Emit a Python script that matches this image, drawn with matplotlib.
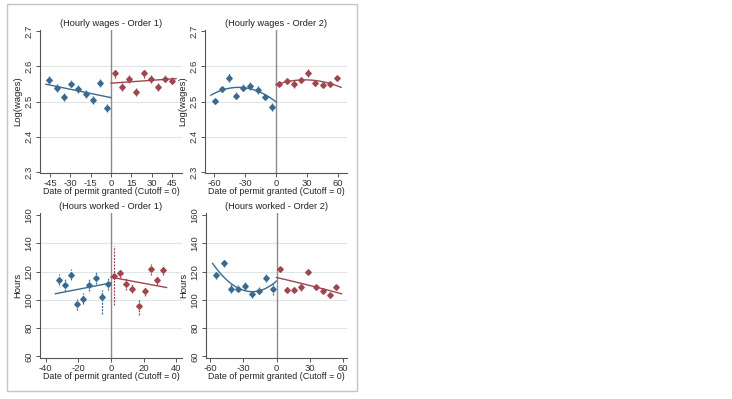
import matplotlib
matplotlib.use("Agg")
import matplotlib.pyplot as plt
import numpy as np
from matplotlib.patches import Rectangle

plt.rcParams['font.family'] = ['Liberation Sans', 'DejaVu Sans']

BLUE = '#3a6a90'
RED = '#a0464f'
GRID = '#dce6ea'
AXC = '#555555'

# ---------------- Data ----------------
# Panel 1: Hourly wages - Order 1
w1_bx = [-45.5, -40.2, -34.9, -29.5, -24.2, -18.8, -13.3, -8.1, -2.8]
w1_by = [2.562, 2.538, 2.513, 2.551, 2.535, 2.521, 2.504, 2.552, 2.481]
w1_be = [0.011, 0.012, 0.011, 0.011, 0.011, 0.012, 0.011, 0.012, 0.012]
w1_rx = [2.7, 8.1, 13.4, 18.7, 24.0, 29.3, 34.6, 39.9, 45.1]
w1_ry = [2.580, 2.542, 2.563, 2.527, 2.580, 2.563, 2.542, 2.564, 2.559]
w1_re = [0.012, 0.011, 0.011, 0.011, 0.012, 0.011, 0.011, 0.010, 0.010]
w1_bfx = [-48, 0]
w1_bfy = [2.549, 2.511]
w1_rfx = [0, 48]
w1_rfy = [2.552, 2.565]

# Panel 2: Hourly wages - Order 2
w2_bx = [-59.4, -52.6, -45.6, -38.8, -31.8, -24.8, -17.7, -10.9, -3.9]
w2_by = [2.501, 2.536, 2.568, 2.516, 2.539, 2.543, 2.532, 2.512, 2.485]
w2_be = [0.008, 0.008, 0.012, 0.010, 0.010, 0.011, 0.011, 0.008, 0.011]
w2_rx = [3.2, 10.3, 17.3, 24.1, 31.1, 38.2, 45.2, 52.3, 59.4]
w2_ry = [2.551, 2.558, 2.549, 2.560, 2.581, 2.553, 2.548, 2.549, 2.567]
w2_re = [0.008, 0.008, 0.011, 0.008, 0.011, 0.008, 0.008, 0.008, 0.008]
w2_bfx = [-63, -35, 0]
w2_bfy = [2.518, 2.540, 2.499]
w2_rfx = [0, 23, 63]
w2_rfy = [2.548, 2.561, 2.540]

# Panel 3: Hours worked - Order 1
h1_bx = [-32.0, -28.3, -24.6, -20.8, -16.9, -13.2, -9.4, -5.7, -2.0]
h1_by = [114.3, 110.5, 117.8, 96.8, 100.8, 110.5, 115.5, 102.3, 111.3]
h1_bel = [4.0, 4.0, 4.0, 4.0, 4.0, 4.0, 4.0, 12.0, 4.0]
h1_beu = [4.0, 4.0, 4.0, 4.0, 4.0, 4.0, 4.0, 4.5, 4.0]
h1_rx = [1.8, 5.5, 9.2, 13.0, 16.9, 20.6, 24.4, 28.1, 31.8]
h1_ry = [117.0, 118.8, 111.3, 108.0, 95.8, 106.5, 121.5, 114.3, 121.0]
h1_rel = [21.0, 3.0, 4.0, 3.0, 6.5, 3.5, 4.0, 3.5, 3.5]
h1_reu = [21.0, 3.0, 4.0, 3.0, 4.5, 3.5, 4.0, 3.5, 3.5]
h1_bfx = [-34, 0]
h1_bfy = [104.3, 112.0]
h1_rfx = [0, 34]
h1_rfy = [116.0, 108.7]

# Panel 4: Hours worked - Order 2
h2_bx = [-54.7, -48.0, -41.6, -35.3, -28.9, -22.5, -15.8, -9.4, -3.0]
h2_by = [117.3, 126.0, 108.0, 107.8, 109.8, 104.0, 106.5, 115.3, 107.8]
h2_be = [2.5, 2.5, 3.0, 2.5, 2.5, 2.5, 2.5, 3.0, 4.5]
h2_rx = [3.3, 9.7, 16.1, 22.5, 28.9, 35.6, 41.9, 48.3, 54.4]
h2_ry = [121.5, 107.3, 107.3, 109.0, 120.0, 109.0, 106.3, 103.3, 109.0]
h2_re = [2.0, 2.0, 2.0, 2.5, 2.0, 2.0, 2.0, 2.0, 2.0]
h2_bfx = [-58, -22, 0]
h2_bfy = [125.8, 105.8, 113.3]
h2_rfx = [0, 30, 59]
h2_rfy = [115.8, 110.2, 104.3]

titles = ['(Hourly wages - Order 1)', '(Hourly wages - Order 2)',
          '(Hours worked - Order 1)', '(Hours worked - Order 2)']
xlabel = 'Date of permit granted (Cutoff = 0)'
wage_ticks = [2.3, 2.4, 2.5, 2.6, 2.7]
hour_ticks = [60, 80, 100, 120, 140, 160]
x_ticks1 = [-45, -30, -15, 0, 15, 30, 45]
x_ticks2 = [-60, -30, 0, 30, 60]
x_ticks3 = [-40, -20, 0, 20, 40]

# ---------------- Figure ----------------
W, H = 732, 399
fig = plt.figure(figsize=(W / 100, H / 100), dpi=100)
fig.patch.set_facecolor('white')
fig.patches.append(Rectangle((7 / W, 1 - 391 / H), 350 / W, 387 / H,
                             transform=fig.transFigure, fill=False,
                             edgecolor='#c4c4c4', linewidth=1.0))


def px_axes(l, t, r, b):
    return fig.add_axes([l / W, 1 - b / H, (r - l) / W, (b - t) / H])


def fitline(ax, fx, fy, color):
    deg = len(fx) - 1
    c = np.polyfit(fx, fy, deg)
    xs = np.linspace(min(fx), max(fx), 100)
    ax.plot(xs, np.polyval(c, xs), color=color, lw=1.0, zorder=3)


def style(ax, title, ylabel, yticks, ylim, xticks, xlim, ylabfmt):
    ax.set_xlim(*xlim)
    ax.set_ylim(*ylim)
    ax.set_yticks(yticks)
    ax.set_yticklabels([ylabfmt(v) for v in yticks], rotation=90, va='center')
    ax.set_xticks(xticks)
    ax.set_xticklabels([str(v) for v in xticks])
    for s in ['top', 'right']:
        ax.spines[s].set_visible(False)
    for s in ['left', 'bottom']:
        ax.spines[s].set_color(AXC)
        ax.spines[s].set_linewidth(0.8)
    ax.tick_params(axis='both', colors=AXC, labelcolor='#333333', labelsize=6.8,
                   length=3, width=0.7, pad=1.5)
    for v in yticks[1:-1]:
        ax.axhline(v, color=GRID, lw=0.8, zorder=0)
    ax.axvline(0, color='#8c8c8c', lw=1.0, zorder=1)
    ax.set_title(title, fontsize=6.7, color='#222222', pad=3)
    ax.set_xlabel(xlabel, fontsize=6.4, color='#222222', labelpad=-1)
    ax.set_ylabel(ylabel, fontsize=6.8, color='#222222', labelpad=1.5)


def points(ax, x, y, yerr, color):
    eb = ax.errorbar(x, y, yerr=yerr, fmt='D', color=color, ms=2.8,
                     mec=color, elinewidth=0.9, capsize=0, zorder=4)
    for lc in eb[2]:
        lc.set_linestyle((0, (1.6, 1.0)))


# Panel 1
ax1 = px_axes(40, 30, 182, 173)
style(ax1, titles[0], 'Log(wages)', wage_ticks, (2.297, 2.703), x_ticks1, (-52.4, 52.4),
      lambda v: f'{v:.1f}')
points(ax1, w1_bx, w1_by, w1_be, BLUE)
points(ax1, w1_rx, w1_ry, w1_re, RED)
fitline(ax1, w1_bfx, w1_bfy, BLUE)
fitline(ax1, w1_rfx, w1_rfy, RED)

# Panel 2
ax2 = px_axes(205, 30, 347, 173)
style(ax2, titles[1], 'Log(wages)', wage_ticks, (2.297, 2.703), x_ticks2, (-68.7, 68.7),
      lambda v: f'{v:.1f}')
points(ax2, w2_bx, w2_by, w2_be, BLUE)
points(ax2, w2_rx, w2_ry, w2_re, RED)
fitline(ax2, w2_bfx, w2_bfy, BLUE)
fitline(ax2, w2_rfx, w2_rfy, RED)

# Panel 3
ax3 = px_axes(40, 213, 182, 358)
style(ax3, titles[2], 'Hours', hour_ticks, (58.8, 161.5), x_ticks3, (-43.4, 43.4),
      lambda v: f'{v:d}')
points(ax3, h1_bx, h1_by, [h1_bel, h1_beu], BLUE)
points(ax3, h1_rx, h1_ry, [h1_rel, h1_reu], RED)
fitline(ax3, h1_bfx, h1_bfy, BLUE)
fitline(ax3, h1_rfx, h1_rfy, RED)

# Panel 4
ax4 = px_axes(206, 213, 347, 358)
style(ax4, titles[3], 'Hours', hour_ticks, (58.8, 161.5), x_ticks2, (-64, 64),
      lambda v: f'{v:d}')
points(ax4, h2_bx, h2_by, h2_be, BLUE)
points(ax4, h2_rx, h2_ry, h2_re, RED)
fitline(ax4, h2_bfx, h2_bfy, BLUE)
fitline(ax4, h2_rfx, h2_rfy, RED)

fig.savefig('out.png', dpi=100, facecolor='white')
